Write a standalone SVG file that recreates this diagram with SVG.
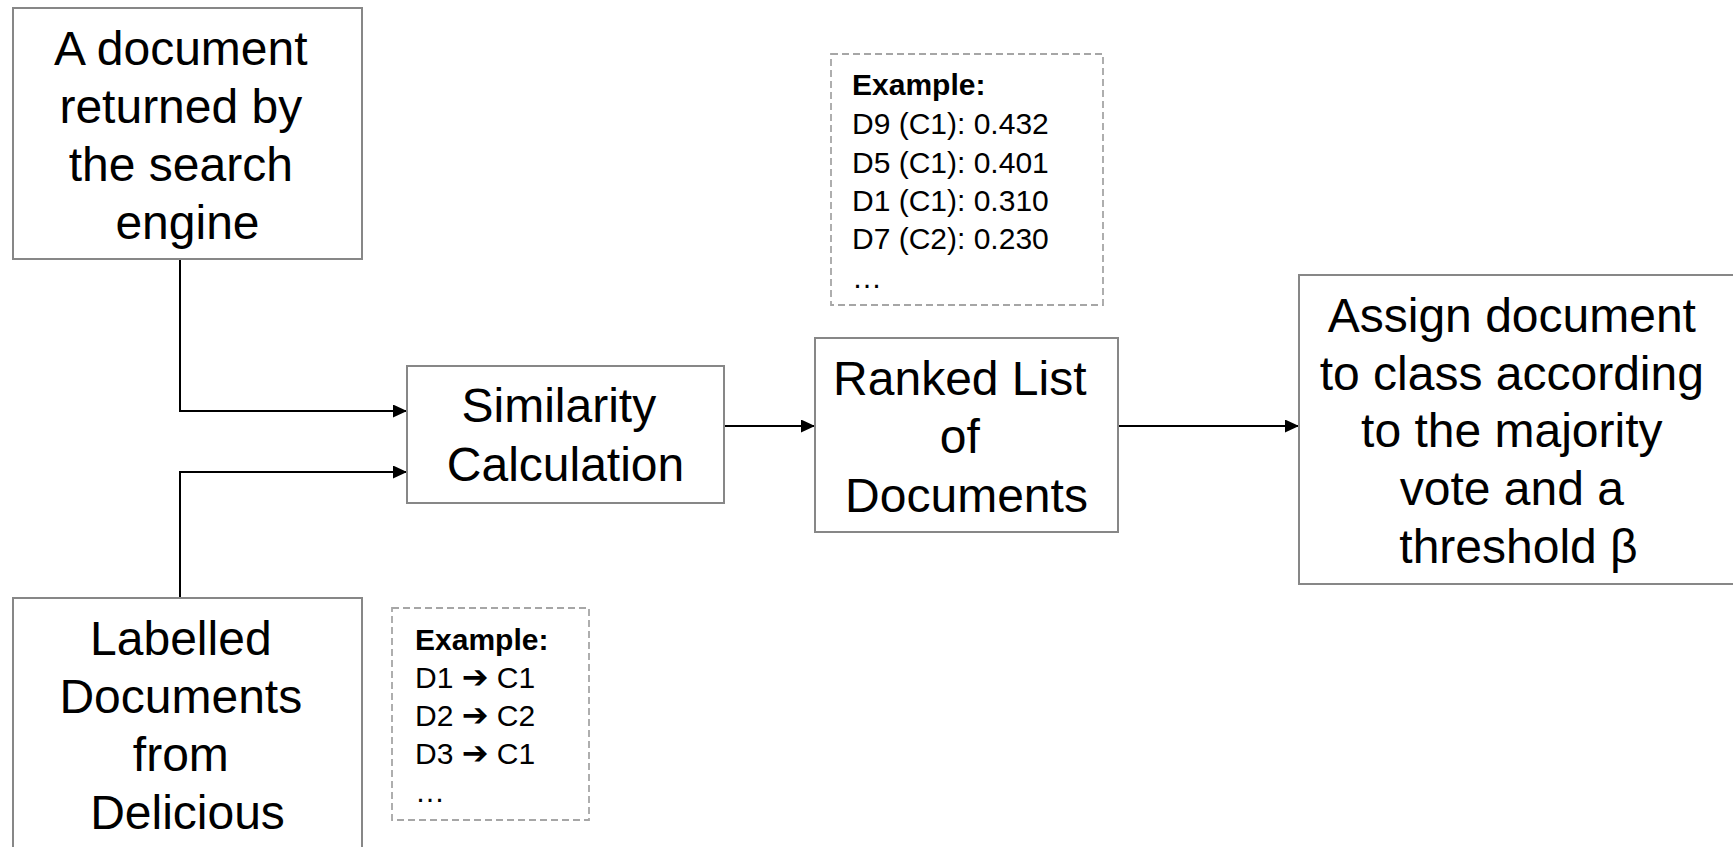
<svg xmlns="http://www.w3.org/2000/svg" width="1733" height="847" viewBox="0 0 1733 847">
  <style>
    .box { fill: #ffffff; stroke: #878787; stroke-width: 2; }
    .note { fill: none; stroke: #a6a6a6; stroke-width: 1.8; stroke-dasharray: 7 4; }
    .label { font-family: "Liberation Sans", Arial, sans-serif; font-size: 48px; fill: #000; text-anchor: middle; }
    .ex { font-family: "Liberation Sans", Arial, sans-serif; font-size: 30px; fill: #000; }
    .ex .head { font-weight: bold; }
    .ex .arr { font-family: "DejaVu Sans", sans-serif; font-weight: bold; font-size: 32px; }
    .wire { fill: none; stroke: #000; stroke-width: 2; marker-end: url(#head); }
  </style>
  <defs>
    <marker id="head" markerUnits="userSpaceOnUse" markerWidth="15" markerHeight="13" refX="14" refY="6.5" orient="auto">
      <path d="M0,0 L14,6.5 L0,13 Z" fill="#000"/>
    </marker>
  </defs>

  <rect width="1733" height="847" fill="#ffffff"/>

  <!-- connectors -->
  <g id="connectors">
    <path class="wire" d="M180,260 V411 H407"/>
    <path class="wire" d="M180,598 V472 H407"/>
    <path class="wire" d="M724,426 H815"/>
    <path class="wire" d="M1118,426 H1299"/>
  </g>

  <!-- search engine document -->
  <g id="query-doc">
    <rect class="box" x="13" y="8" width="349" height="251"/>
    <text class="label">
      <tspan x="187.5" y="65">A document</tspan>
      <tspan x="187.5" y="123">returned by</tspan>
      <tspan x="187.5" y="181">the search</tspan>
      <tspan x="187.5" y="239">engine</tspan>
    </text>
  </g>

  <!-- labelled training documents -->
  <g id="labelled-docs">
    <rect class="box" x="13" y="598" width="349" height="270"/>
    <text class="label">
      <tspan x="187.5" y="655">Labelled</tspan>
      <tspan x="187.5" y="713">Documents</tspan>
      <tspan x="187.5" y="771">from</tspan>
      <tspan x="187.5" y="829">Delicious</tspan>
    </text>
  </g>

  <!-- example of labels -->
  <g id="label-example">
    <rect class="note" x="392" y="608" width="197" height="212"/>
    <text class="ex">
      <tspan class="head" x="415" y="650">Example:</tspan>
      <tspan x="415" y="688">D1 <tspan class="arr">➔</tspan> C1</tspan>
      <tspan x="415" y="726">D2 <tspan class="arr">➔</tspan> C2</tspan>
      <tspan x="415" y="764">D3 <tspan class="arr">➔</tspan> C1</tspan>
      <tspan x="415" y="802">…</tspan>
    </text>
  </g>

  <!-- similarity step -->
  <g id="similarity">
    <rect class="box" x="407" y="366" width="317" height="137"/>
    <text class="label">
      <tspan x="565.5" y="422">Similarity</tspan>
      <tspan x="565.5" y="481">Calculation</tspan>
    </text>
  </g>

  <!-- ranked list -->
  <g id="ranked-list">
    <rect class="box" x="815" y="338" width="303" height="194"/>
    <text class="label">
      <tspan x="966.5" y="395">Ranked List</tspan>
      <tspan x="966.5" y="453">of</tspan>
      <tspan x="966.5" y="512">Documents</tspan>
    </text>
  </g>

  <!-- example of ranking -->
  <g id="rank-example">
    <rect class="note" x="831" y="54" width="272" height="251"/>
    <text class="ex">
      <tspan class="head" x="852" y="95">Example:</tspan>
      <tspan x="852" y="134">D9 (C1): 0.432</tspan>
      <tspan x="852" y="173">D5 (C1): 0.401</tspan>
      <tspan x="852" y="211">D1 (C1): 0.310</tspan>
      <tspan x="852" y="249">D7 (C2): 0.230</tspan>
      <tspan x="852" y="288">…</tspan>
    </text>
  </g>

  <!-- class assignment -->
  <g id="assign">
    <rect class="box" x="1299" y="275" width="440" height="309"/>
    <text class="label">
      <tspan x="1518.5" y="332">Assign document</tspan>
      <tspan x="1518.5" y="390">to class according</tspan>
      <tspan x="1518.5" y="447">to the majority</tspan>
      <tspan x="1518.5" y="505">vote and a</tspan>
      <tspan x="1518.5" y="563">threshold β</tspan>
    </text>
  </g>
</svg>
